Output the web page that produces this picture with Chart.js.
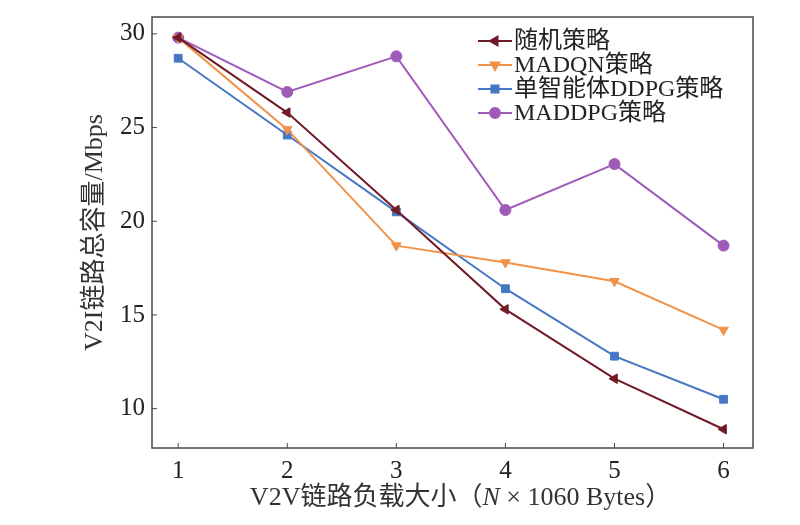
<!DOCTYPE html>
<html>
<head>
<meta charset="utf-8">
<script src="https://cdn.jsdelivr.net/npm/chart.js@4"></script>
<style>
  html, body { margin: 0; background: #fff; }
  #wrap { width: 800px; height: 525px; }
</style>
</head>
<body>
<div id="wrap"><canvas id="chart"></canvas></div>
<script>
const loads = [1, 2, 3, 4, 5, 6];
const yTicks = [10, 15, 20, 25, 30];
const seriesNames = ["随机策略", "MADQN策略", "单智能体DDPG策略", "MADDPG策略"];
const randomVals = [29.8, 25.8, 20.6, 15.3, 11.6, 8.9];
const madqnVals = [29.8, 24.9, 18.7, 17.8, 16.8, 14.2];
const ddpgVals = [28.7, 24.6, 20.5, 16.4, 12.8, 10.5];
const maddpgVals = [29.8, 26.9, 28.8, 20.6, 23.05, 18.7];
const xTitleParts = [["V2V链路负载大小（", ""], ["N", "italic "], [" × 1060 Bytes）", ""]];

const FONT = "'Liberation Serif', 'Noto Sans CJK SC', serif";

function toPoints(vals) {
  return loads.map((x, i) => ({ x: x, y: vals[i] }));
}

function makeSet(label, vals, color, style, rotation) {
  return {
    label: label,
    data: toPoints(vals),
    borderColor: color,
    backgroundColor: color,
    borderWidth: 2,
    pointStyle: style,
    pointRotation: rotation,
    pointRadius: 5.5,
    pointBorderWidth: 1,
    tension: 0,
  };
}

const datasets = [
  makeSet(seriesNames[0], randomVals, "#701b26", "triangle", -90),
  makeSet(seriesNames[1], madqnVals, "#f0934a", "triangle", 180),
  makeSet(seriesNames[2], ddpgVals, "#4677c3", "rect", 0),
  makeSet(seriesNames[3], maddpgVals, "#a05ab8", "circle", 0),
];

// frame, inward tick marks, x title and the legend inside the plot
const framePlugin = {
  id: "frame",
  afterDraw(chart) {
    const { ctx, chartArea: a, scales } = chart;
    const x = scales.x, y = scales.y;
    ctx.save();
    ctx.strokeStyle = "#4a4a4a";
    ctx.lineWidth = 1.5;
    ctx.strokeRect(a.left, a.top, a.right - a.left, a.bottom - a.top);
    ctx.lineWidth = 1;
    ctx.beginPath();
    x.ticks.forEach((t) => {
      const px = x.getPixelForValue(t.value);
      ctx.moveTo(px, a.bottom);
      ctx.lineTo(px, a.bottom - 5);
    });
    y.ticks.forEach((t) => {
      const py = y.getPixelForValue(t.value);
      ctx.moveTo(a.left, py);
      ctx.lineTo(a.left + 5, py);
    });
    ctx.stroke();

    // x axis title with italic N
    ctx.fillStyle = "#333";
    ctx.textBaseline = "middle";
    ctx.textAlign = "left";
    let total = 0;
    xTitleParts.forEach((p) => {
      ctx.font = p[1] + "26px " + FONT;
      total += ctx.measureText(p[0]).width;
    });
    let tx = (a.left + a.right) / 2 + 8 - total / 2;
    xTitleParts.forEach((p) => {
      ctx.font = p[1] + "26px " + FONT;
      ctx.fillText(p[0], tx, 498);
      tx += ctx.measureText(p[0]).width;
    });

    // legend
    const lx = 478, ly = 41, step = 24;
    ctx.font = "24px " + FONT;
    chart.data.datasets.forEach((ds, i) => {
      const yy = ly + i * step;
      ctx.strokeStyle = ds.borderColor;
      ctx.lineWidth = 2;
      ctx.beginPath();
      ctx.moveTo(lx, yy);
      ctx.lineTo(lx + 34, yy);
      ctx.stroke();
      ctx.fillStyle = ds.backgroundColor;
      Chart.helpers.drawPoint(ctx, {
        pointStyle: ds.pointStyle,
        rotation: ds.pointRotation,
        radius: 5,
        borderWidth: 1,
      }, lx + 17, yy);
      ctx.fillStyle = "#222";
      ctx.fillText(ds.label, lx + 36, yy + 1);
    });
    ctx.restore();
  },
};

new Chart(document.getElementById("chart").getContext("2d"), {
  type: "line",
  data: { datasets: datasets },
  options: {
    responsive: true,
    maintainAspectRatio: false,
    animation: false,
    layout: { padding: { top: 17, right: 47, left: 0, bottom: 0 } },
    plugins: {
      legend: { display: false },
      tooltip: { enabled: false },
    },
    scales: {
      x: {
        type: "linear",
        min: 0.76,
        max: 6.27,
        afterFit(s) { s.height = 77; s.paddingLeft = 0; s.paddingRight = 0; },
        afterBuildTicks(s) { s.ticks = loads.map((v) => ({ value: v })); },
        grid: { display: false, drawTicks: false },
        border: { display: false },
        ticks: { color: "#222", padding: 8, font: { family: FONT, size: 25 } },
      },
      y: {
        min: 7.9,
        max: 30.9,
        afterFit(s) { s.width = 152; s.paddingTop = 0; s.paddingBottom = 0; },
        afterBuildTicks(s) { s.ticks = yTicks.map((v) => ({ value: v })); },
        grid: { display: false, drawTicks: false },
        border: { display: false },
        ticks: { color: "#222", padding: 7, font: { family: FONT, size: 25 } },
        title: {
          display: true,
          text: "V2I链路总容量/Mbps",
          color: "#333",
          font: { family: FONT, size: 26 },
          padding: { top: 80, bottom: 0 },
        },
      },
    },
  },
  plugins: [framePlugin],
});
</script>
</body>
</html>
